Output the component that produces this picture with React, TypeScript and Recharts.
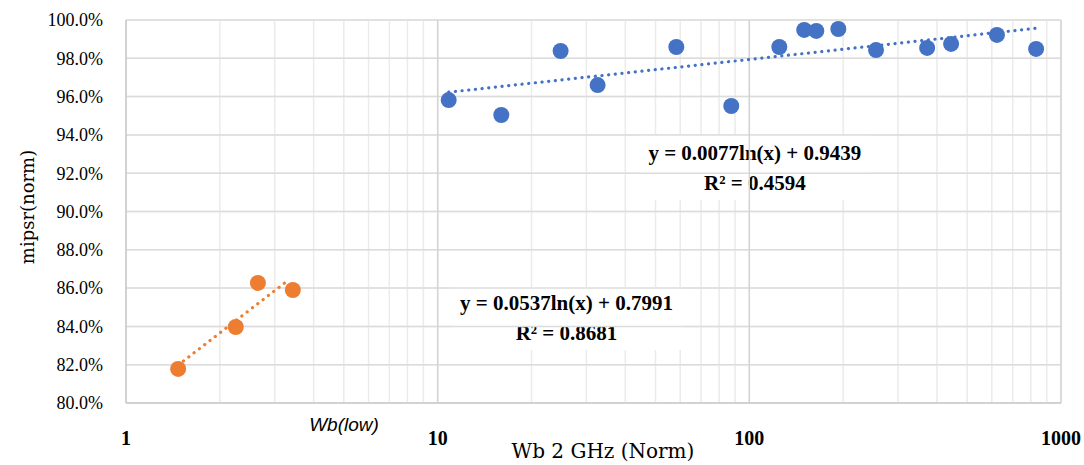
import React from "react";
import {
  ScatterChart,
  Scatter,
  XAxis,
  YAxis,
  CartesianGrid,
  ReferenceLine,
  ReferenceArea,
} from "recharts";

// values (y in %)
const highPoints = [
  { x: 10.85, y: 95.82 },
  { x: 16.0, y: 95.04 },
  { x: 24.8, y: 98.38 },
  { x: 32.6, y: 96.6 },
  { x: 58.3, y: 98.59 },
  { x: 87.5, y: 95.51 },
  { x: 124.8, y: 98.59 },
  { x: 150, y: 99.48 },
  { x: 164, y: 99.43 },
  { x: 193, y: 99.53 },
  { x: 255, y: 98.43 },
  { x: 372, y: 98.54 },
  { x: 444, y: 98.75 },
  { x: 623, y: 99.22 },
  { x: 832, y: 98.49 },
];

const lowPoints = [
  { x: 1.47, y: 81.78 },
  { x: 2.25, y: 83.97 },
  { x: 2.65, y: 86.27 },
  { x: 3.43, y: 85.9 },
];

// trendline ends (log fit => straight on a log axis)
const highTrend = [
  { x: 10.85, y: 96.23 },
  { x: 832, y: 99.57 },
];
const lowTrend = [
  { x: 1.47, y: 81.98 },
  { x: 3.25, y: 86.3 },
];

const xTicks = [
  1, 2, 3, 4, 5, 6, 7, 8, 9, 10, 20, 30, 40, 50, 60, 70, 80, 90, 100, 200, 300,
  400, 500, 600, 700, 800, 900, 1000,
];
const xMajor = [1, 10, 100, 1000];
const yTicks = [80, 82, 84, 86, 88, 90, 92, 94, 96, 98, 100];

const highEq = ["y = 0.0077ln(x) + 0.9439", "R² = 0.4594"];
const lowEq = ["y = 0.0537ln(x) + 0.7991", "R² = 0.8681"];

const BLUE = "#4472C4";
const ORANGE = "#ED7D31";
const SERIF = "'Liberation Serif', serif";

const dotted = (color: string) => ({
  stroke: color,
  strokeWidth: 3.2,
  strokeDasharray: "0.1 6.6",
  strokeLinecap: "round" as const,
});

function Dot(color: string) {
  return (p: any) => <circle cx={p.cx} cy={p.cy} r={8} fill={color} />;
}

function EqLabel({ viewBox, lines, top }: any) {
  const cx = viewBox.x + viewBox.width / 2;
  return (
    <g>
      {lines.map((t: string, i: number) => (
        <text
          key={i}
          x={cx}
          y={viewBox.y + top + i * 30}
          textAnchor="middle"
          dominantBaseline="central"
          fontFamily={SERIF}
          fontWeight="bold"
          fontSize={21}
          fill="#000"
        >
          {t}
        </text>
      ))}
    </g>
  );
}

export default function App() {
  return (
    <div style={{ position: "absolute", left: 0, top: 0, width: 1084, height: 465, background: "#fff" }}>
      <ScatterChart width={1084} height={465} margin={{ top: 20, right: 23, bottom: 0, left: 0 }}>
        <CartesianGrid stroke="#ebebeb" strokeWidth={1.5} />
        <XAxis
          type="number"
          dataKey="x"
          scale="log"
          domain={[1, 1000]}
          ticks={xTicks}
          allowDataOverflow
          height={62}
          interval={0}
          tickLine={false}
          tickMargin={22}
          axisLine={{ stroke: "#c8c8c8", strokeWidth: 1.5 }}
          tick={{ fontFamily: SERIF, fontWeight: "bold", fontSize: 20, fill: "#000" }}
          tickFormatter={(v: number) => (xMajor.includes(v) ? String(v) : "")}
        />
        <YAxis
          type="number"
          dataKey="y"
          domain={[80, 100]}
          ticks={yTicks}
          allowDataOverflow
          width={126}
          interval={0}
          tickLine={false}
          tickMargin={17}
          axisLine={{ stroke: "#c8c8c8", strokeWidth: 1.5 }}
          tick={{ fontFamily: SERIF, fontSize: 18, fill: "#000" }}
          tickFormatter={(v: number) => `${v.toFixed(1)}%`}
        />
        {yTicks.slice(1).map((v) => (
          <ReferenceLine key={"h" + v} y={v} stroke="#dcdcdc" strokeWidth={1.5} />
        ))}
        <ReferenceLine x={10} stroke="#d4d4d4" strokeWidth={1.5} />
        <ReferenceLine x={100} stroke="#d4d4d4" strokeWidth={1.5} />
        <ReferenceLine x={1000} stroke="#d4d4d4" strokeWidth={1.5} />
        <ReferenceArea
          x1={44.1}
          x2={246}
          y1={90.6}
          y2={93.99}
          fill="#fff"
          fillOpacity={1}
          stroke="none"
          label={<EqLabel lines={highEq} top={18} />}
        />
        <ReferenceArea
          x1={11.0}
          x2={61.0}
          y1={82.77}
          y2={86.06}
          fill="#fff"
          fillOpacity={1}
          stroke="none"
          label={<EqLabel lines={lowEq} top={16} />}
        />
        <Scatter data={highTrend} line={dotted(BLUE)} shape={() => <g />} isAnimationActive={false} />
        <Scatter data={lowTrend} line={dotted(ORANGE)} shape={() => <g />} isAnimationActive={false} />
        <Scatter data={highPoints} shape={Dot(BLUE)} isAnimationActive={false} />
        <Scatter data={lowPoints} shape={Dot(ORANGE)} isAnimationActive={false} />
      </ScatterChart>
      <div
        style={{
          position: "absolute",
          left: 27,
          top: 207,
          transform: "translate(-50%, -50%) rotate(-90deg)",
          fontFamily: "'DejaVu Serif', serif",
          fontSize: 18,
          whiteSpace: "nowrap",
          color: "#000",
        }}
      >
        mipsr(norm)
      </div>
      <div
        style={{
          position: "absolute",
          left: 603,
          top: 451,
          transform: "translate(-50%, -50%)",
          fontFamily: "'DejaVu Serif', serif",
          fontSize: 20,
          whiteSpace: "nowrap",
          color: "#000",
        }}
      >
        Wb 2 GHz (Norm)
      </div>
      <div
        style={{
          position: "absolute",
          left: 344,
          top: 425,
          transform: "translate(-50%, -50%)",
          fontFamily: "'Liberation Sans', sans-serif",
          fontStyle: "italic",
          fontSize: 19,
          whiteSpace: "nowrap",
          color: "#000",
        }}
      >
        Wb(low)
      </div>
    </div>
  );
}
